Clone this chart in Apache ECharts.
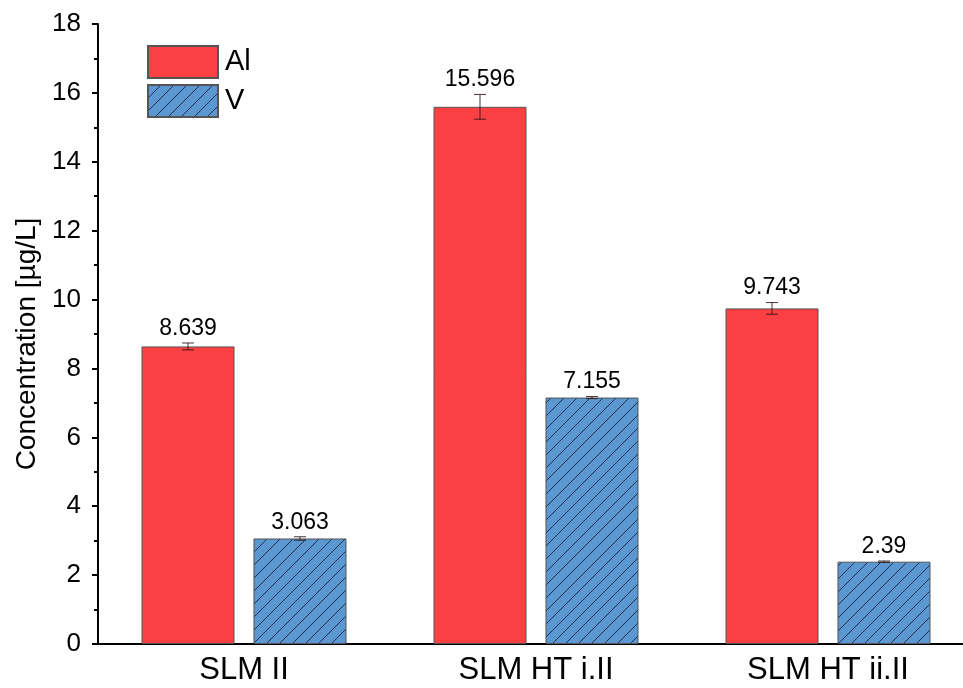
<!DOCTYPE html>
<html>
<head>
<meta charset="utf-8">
<script src="https://cdn.jsdelivr.net/npm/echarts@6/dist/echarts.min.js"></script>
<style>html,body{margin:0;padding:0;background:#fff;overflow:hidden;width:963px;height:688px}#c{width:974px;height:688px}</style>
</head>
<body>
<div id="c"></div>
<script>
const categories = ['SLM II', 'SLM HT i.II', 'SLM HT ii.II'];
const alValues = [8.639, 15.596, 9.743];
const vValues = [3.063, 7.155, 2.39];
const alErrors = [0.10, 0.36, 0.17];
const vErrors = [0.05, 0.03, 0.02];
const yTicks = { min: 0, max: 18, interval: 2 };

const FONT = "'Liberation Sans', Arial, sans-serif";
const RED = '#FA4042';
const BLUE = '#5B97D0';
const BAR_W = 93;
const GAP = 19;

function hatch() {
  const s = 13;
  const c = document.createElement('canvas');
  c.width = s; c.height = s;
  const g = c.getContext('2d');
  g.fillStyle = BLUE; g.fillRect(0, 0, s, s);
  g.strokeStyle = '#1c2f52'; g.lineWidth = 1;
  g.beginPath();
  g.moveTo(0, s); g.lineTo(s, 0);
  g.moveTo(-2, 2); g.lineTo(2, -2);
  g.moveTo(s - 2, s + 2); g.lineTo(s + 2, s - 2);
  g.stroke();
  return c;
}
const hatchImg = hatch();

function errSeries(name, values, errors, sign) {
  return {
    type: 'custom',
    name: name + '_err',
    z: 10,
    silent: true,
    data: values.map((v, i) => [i, v, errors[i]]),
    renderItem: function (params, api) {
      const i = api.value(0), v = api.value(1), e = api.value(2);
      const off = sign * (BAR_W + GAP) / 2;
      const top = api.coord([i, v + e]);
      const bot = api.coord([i, v - e]);
      const x = top[0] + off;
      const cap = 6;
      const st = { stroke: 'rgba(40,20,20,0.85)', lineWidth: 1 };
      return {
        type: 'group',
        children: [
          { type: 'line', shape: { x1: x, y1: top[1], x2: x, y2: bot[1] }, style: st },
          { type: 'line', shape: { x1: x - cap, y1: top[1], x2: x + cap, y2: top[1] }, style: st },
          { type: 'line', shape: { x1: x - cap, y1: bot[1], x2: x + cap, y2: bot[1] }, style: st },
          { type: 'text', style: { text: String(v), x: x, y: top[1] - 3, textAlign: 'center', textVerticalAlign: 'bottom', fontSize: 23, fontFamily: FONT, fill: '#000' } }
        ]
      };
    }
  };
}

const chart = echarts.init(document.getElementById('c'));
chart.setOption({
  animation: false,
  backgroundColor: '#fff',
  grid: { left: 98, right: 0, top: 24, bottom: 44 },
  legend: {
    data: ['Al', 'V'],
    orient: 'vertical',
    left: 147, top: 45,
    itemWidth: 70, itemHeight: 32, itemGap: 5,
    icon: 'rect',
    textStyle: { fontSize: 29, fontFamily: FONT, color: '#000', padding: [0, 0, 0, 2] },
    padding: 0
  },
  xAxis: {
    type: 'category',
    data: categories,
    axisLine: { lineStyle: { color: '#000', width: 2 } },
    axisTick: { show: false },
    axisLabel: { fontSize: 31, fontFamily: FONT, color: '#000', margin: 11 }
  },
  yAxis: {
    type: 'value',
    min: yTicks.min, max: yTicks.max, interval: yTicks.interval,
    name: 'Concentration [µg/L]',
    nameLocation: 'middle',
    nameGap: 56,
    nameTextStyle: { fontSize: 28, fontFamily: FONT, color: '#000', padding: [0, 20, 0, 0] },
    axisLine: { show: true, lineStyle: { color: '#000', width: 2 } },
    axisTick: { show: true, length: 6, lineStyle: { color: '#000', width: 2 } },
    minorTick: { show: true, splitNumber: 2, length: 4, lineStyle: { color: '#000', width: 2 } },
    splitLine: { show: false },
    axisLabel: { fontSize: 26, fontFamily: FONT, color: '#000', margin: 17 }
  },
  series: [
    {
      name: 'Al', type: 'bar', data: alValues, barWidth: BAR_W, barGap: (GAP / BAR_W * 100).toFixed(1) + '%',
      itemStyle: { color: RED, borderColor: '#555', borderWidth: 1 }
    },
    {
      name: 'V', type: 'bar', data: vValues, barWidth: BAR_W,
      itemStyle: { color: { image: hatchImg, repeat: 'repeat' }, borderColor: '#555', borderWidth: 1 }
    },
    errSeries('Al', alValues, alErrors, -1),
    errSeries('V', vValues, vErrors, 1)
  ]
});
</script>
</body>
</html>
